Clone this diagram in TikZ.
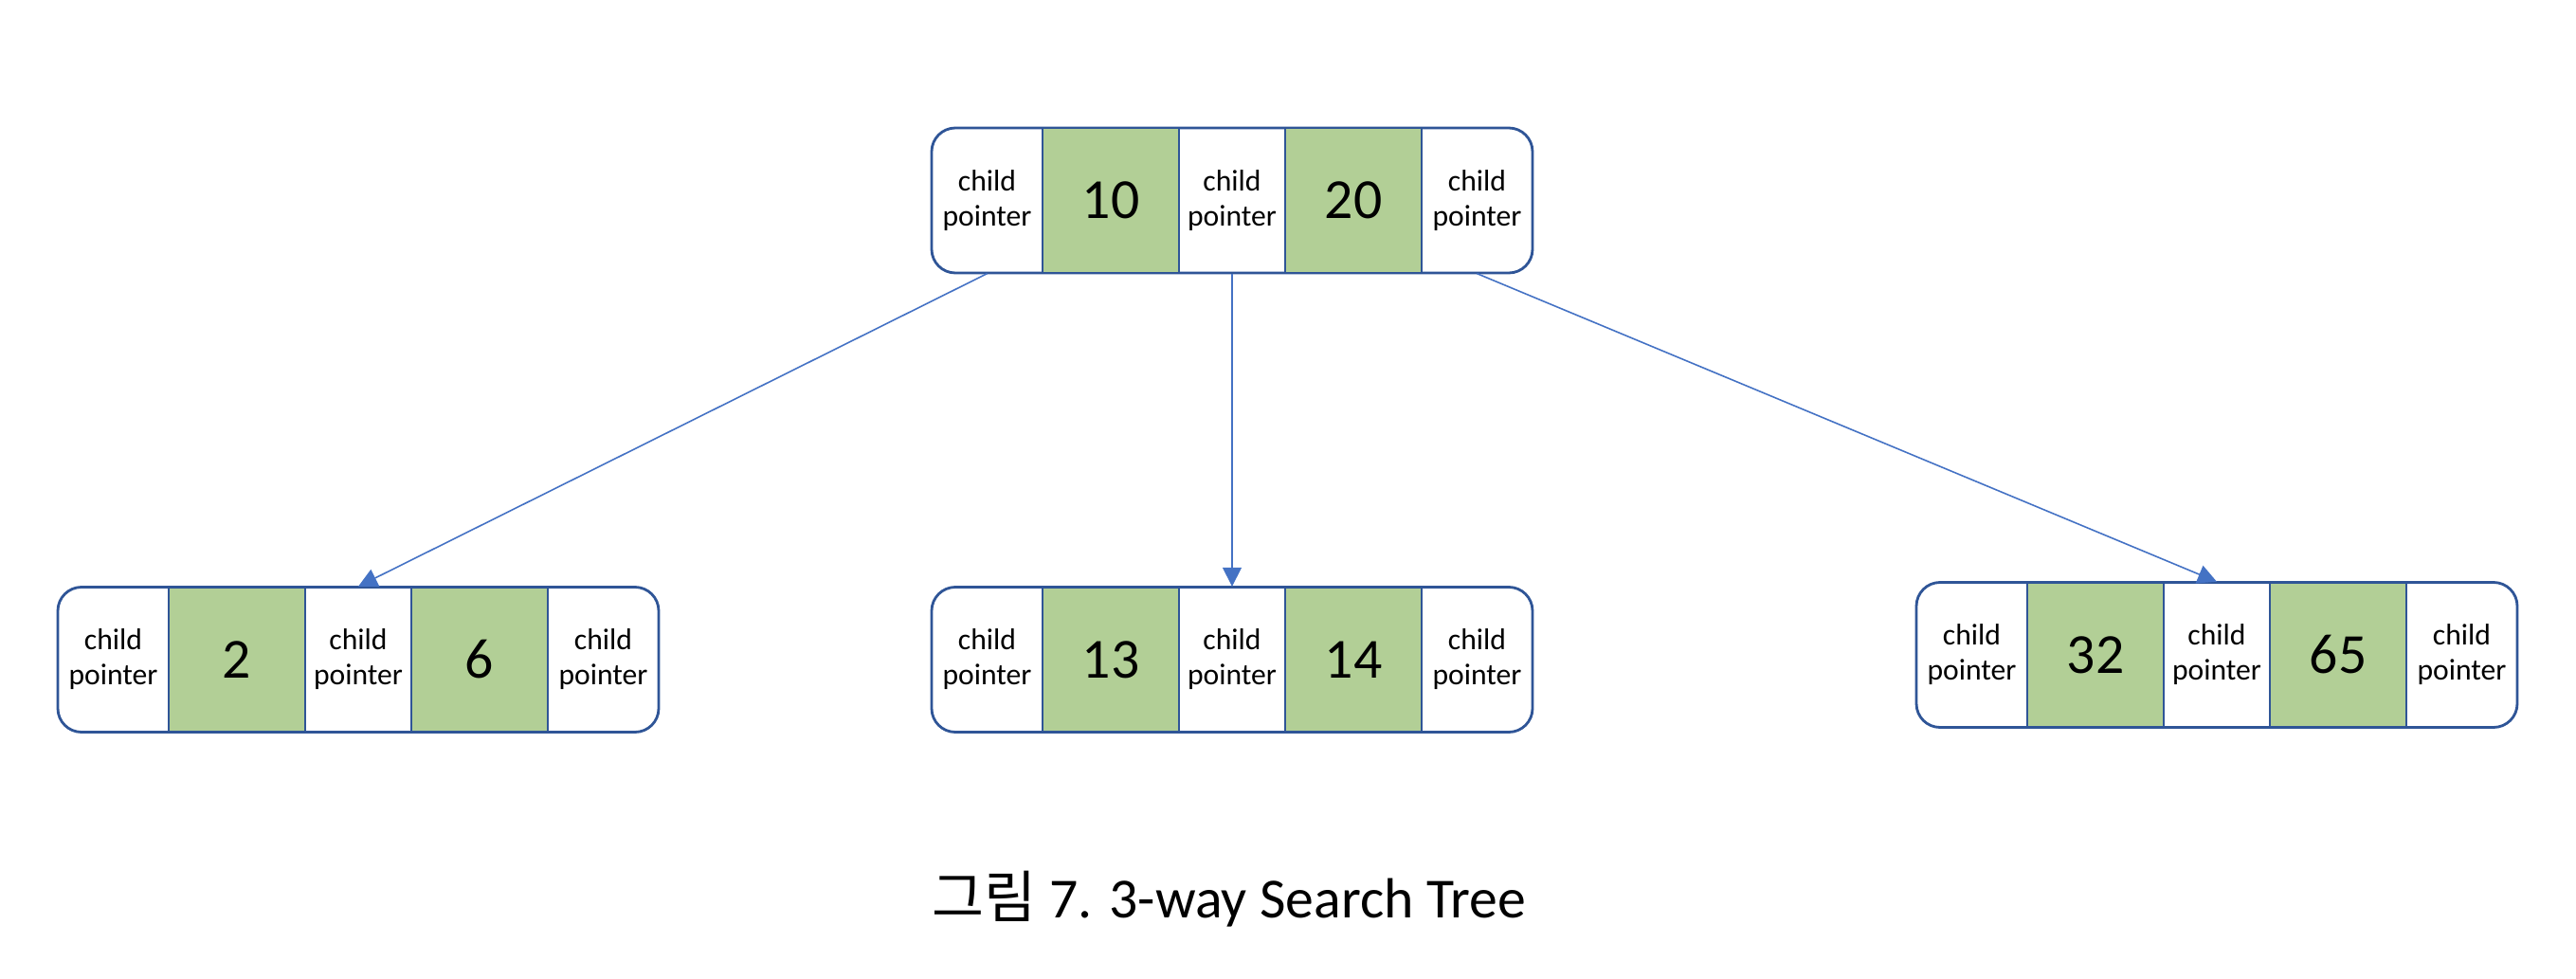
\documentclass[tikz,border=0pt]{standalone}
\usepackage{fontspec}
\setmainfont{Carlito}
\newfontfamily\krfont{Noto Sans CJK KR}
\usetikzlibrary{arrows.meta}
\definecolor{edgeblue}{HTML}{2F5597}
\definecolor{arrowblue}{HTML}{4472C4}
\definecolor{keygreen}{HTML}{B2CF96}

\begin{document}
\begin{tikzpicture}[
    box/.style={shape=rectangle, rounded corners=0.25cm, draw=edgeblue, line width=0.8pt, fill=white, minimum width=6.34cm, minimum height=1.53cm, inner sep=0pt},
    key/.style={shape=rectangle, draw=edgeblue, line width=0.8pt, fill=keygreen, minimum width=1.44cm, minimum height=1.53cm, inner sep=0pt, font=\fontsize{17}{20}\selectfont},
    ptr/.style={shape=rectangle, minimum width=1.12cm, minimum height=1.53cm, inner sep=0pt, align=center, font=\fontsize{9}{10.5}\selectfont},
    link/.style={draw=arrowblue, line width=0.45pt, -{Triangle[length=0.2cm,width=0.2cm]}}
]
    \useasboundingbox (0,0) rectangle (27.18,10.32);

    % root
    \node[box] at (13.0,8.205) (T) {};
    \node[key] at (11.72,8.205) (T1) {10};
    \node[key] at (14.28,8.205) (T3) {20};
    \node[ptr] at (10.415,8.205) (T0) {child\\pointer};
    \node[ptr] at (13.0,8.205) (T2) {child\\pointer};
    \node[ptr] at (15.585,8.205) (T4) {child\\pointer};

    % left child
    \node[box] at (3.78,3.36) (L) {};
    \node[key] at (2.50,3.36) (L1) {2};
    \node[key] at (5.06,3.36) (L3) {6};
    \node[ptr] at (1.195,3.36) (L0) {child\\pointer};
    \node[ptr] at (3.78,3.36) (L2) {child\\pointer};
    \node[ptr] at (6.365,3.36) (L4) {child\\pointer};

    % middle child
    \node[box] at (13.0,3.36) (M) {};
    \node[key] at (11.72,3.36) (M1) {13};
    \node[key] at (14.28,3.36) (M3) {14};
    \node[ptr] at (10.415,3.36) (M0) {child\\pointer};
    \node[ptr] at (13.0,3.36) (M2) {child\\pointer};
    \node[ptr] at (15.585,3.36) (M4) {child\\pointer};

    % right child
    \node[box] at (23.39,3.41) (R) {};
    \node[key] at (22.11,3.41) (R1) {32};
    \node[key] at (24.67,3.41) (R3) {65};
    \node[ptr] at (20.805,3.41) (R0) {child\\pointer};
    \node[ptr] at (23.39,3.41) (R2) {child\\pointer};
    \node[ptr] at (25.975,3.41) (R4) {child\\pointer};

    \path[link] (T0.south) -- (L2.north);
    \path[link] (T2.south) -- (M2.north);
    \path[link] (T4.south) -- (R2.north);

    \node[anchor=base] at (12.97,0.64) (cap) {\fontsize{17}{20}\selectfont{\krfont 그림} 7. 3-way Search Tree};
\end{tikzpicture}
\end{document}
